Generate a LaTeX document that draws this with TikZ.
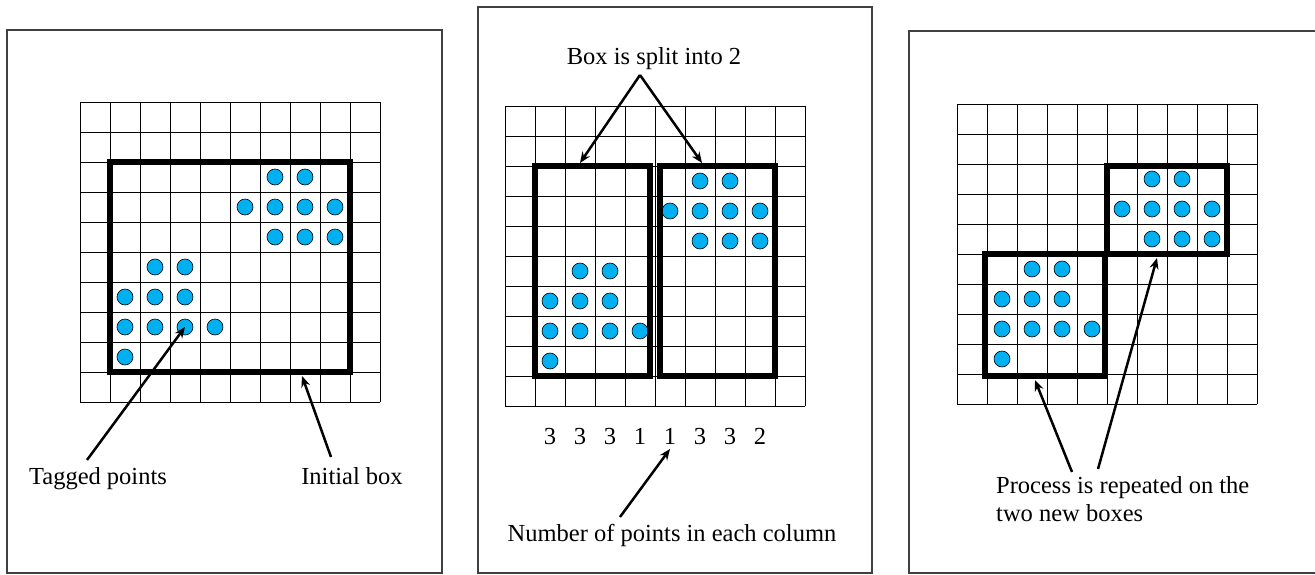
\documentclass[tikz,border=0pt]{standalone}
\usepackage{fontspec}
\setmainfont{Liberation Serif}
\usetikzlibrary{arrows.meta}
\definecolor{dotblue}{RGB}{0,176,240}
\begin{document}
\begin{tikzpicture}[x=1pt,y=-1pt,line cap=butt,line join=miter,>={Stealth[length=11pt,width=9pt]},
		lbl/.style={font=\fontsize{24.5}{27.8}\selectfont,inner sep=0pt},
		dot/.style={circle,draw,fill=dotblue,line width=.6pt,minimum size=16pt,inner sep=0pt},
		thick box/.style={line width=5.5pt},
		pointer/.style={->,line width=2.5pt}]
	\useasboundingbox (0,0) rectangle (1315,575);
	% the three panels
	\draw[line width=1.6pt,black!75] (7,30) rectangle (442,573);
	\draw[line width=1.6pt,black!75] (478,7) rectangle (872,573);
	\draw[line width=1.6pt,black!75] (909,31) rectangle (1340,573);
	% grid and tagged points, the same in each panel
	\foreach \p/\ox/\oy in {a/80/102,b/505/106,c/957/104}{
		\begin{scope}[shift={(\ox,\oy)}]
			\foreach \i in {0,...,10}{
				\draw[line width=.8pt] (30*\i,0) -- (30*\i,300);
				\draw[line width=.8pt] (0,30*\i) -- (300,30*\i);
			}
			\foreach \c/\r in {6/2,7/2,5/3,6/3,7/3,8/3,6/4,7/4,8/4,2/5,3/5,1/6,2/6,3/6,1/7,2/7,3/7,4/7,1/8}{
				\node[dot] (\p-\c-\r) at (30*\c+15,30*\r+15) {};
			}
		\end{scope}
	}
	% boxes
	\draw[thick box] (110,162) rectangle (350,372);
	\draw[thick box] (535,166) rectangle (650,376);
	\draw[thick box] (660,166) rectangle (775,376);
	\draw[thick box] (985,254) rectangle (1105,376);
	\draw[thick box] (1107,166) rectangle (1227,254);
	% texts
	\node[lbl,anchor=base] (tag) at (98,484) {Tagged points};
	\node[lbl,anchor=base] (init) at (352,484) {Initial box};
	\node[lbl,anchor=base] (split) at (654,65) {Box is split into 2};
	\foreach \n [count=\c] in {3,3,3,1,1,3,3,2}{
		\node[lbl,anchor=base] (n\c) at (520+30*\c,444) {\n};
	}
	\node[lbl,anchor=base] (cols) at (672,541) {Number of points in each column};
	\node[lbl,anchor=base west,align=left] (again) at (996,521) {Process is repeated on the\\two new boxes};
	% arrows
	\coordinate (tagend) at (87,460);
	\coordinate (initend) at (331,457);
	\coordinate (initbox) at (302,376);
	\coordinate (apex) at (640,75);
	\coordinate (lefttop) at (580,163);
	\coordinate (righttop) at (702,163);
	\coordinate (colsend) at (620,517);
	\coordinate (under) at (670,449);
	\coordinate (againa) at (1072,472);
	\coordinate (againb) at (1098,469);
	\coordinate (lowbox) at (1035,380);
	\coordinate (upbox) at (1157,258);
	\draw[pointer] (tagend) -- (a-3-7.center);
	\draw[pointer] (initend) -- (initbox);
	\draw[pointer] (apex) -- (lefttop);
	\draw[pointer] (apex) -- (righttop);
	\draw[pointer] (colsend) -- (under);
	\draw[pointer] (againa) -- (lowbox);
	\draw[pointer] (againb) -- (upbox);
\end{tikzpicture}
\end{document}
